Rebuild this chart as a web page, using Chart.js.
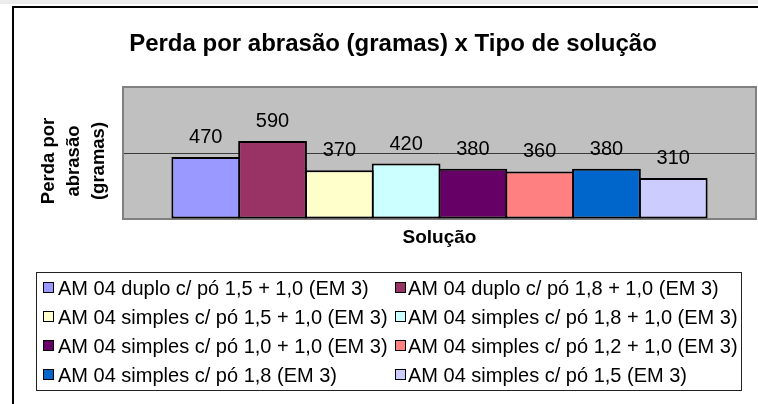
<!DOCTYPE html>
<html lang="pt-BR">
<head>
<meta charset="utf-8">
<title>Perda por abrasão</title>
<script src="https://cdn.jsdelivr.net/npm/chart.js@4.4.1/dist/chart.umd.min.js"></script>
<style>
  html, body { margin: 0; padding: 0; background: #fff; }
  body { width: 758px; height: 404px; position: relative; overflow: hidden; font-family: Arial, "Liberation Sans", sans-serif; }
  #faixa { position: absolute; left: 0; top: 0; width: 758px; height: 4px; background: #ececec; }
  #moldura { position: absolute; left: 12px; top: 6px; width: 780px; height: 440px; border-top: 2px solid #000; border-left: 2px solid #000; }
  #grafico { position: absolute; left: 0; top: 0; }
  #legenda { position: absolute; left: 36px; top: 272px; width: 706px; height: 119px; border: 1px solid #222; box-sizing: border-box; }
  .item { position: absolute; height: 22px; font-size: 20px; line-height: 22px; white-space: nowrap; color: #000; }
  .cor { position: absolute; left: 0; top: 5px; width: 9px; height: 9px; border: 1px solid #000; }
</style>
</head>
<body>
<div id="faixa"></div>
<div id="moldura"></div>
<canvas id="grafico" width="758" height="404"></canvas>
<div id="legenda"></div>

<script>
// dados
const series = [
  "AM 04 duplo c/ pó 1,5 + 1,0 (EM 3)",
  "AM 04 duplo c/ pó 1,8 + 1,0 (EM 3)",
  "AM 04 simples c/ pó 1,5 + 1,0 (EM 3)",
  "AM 04 simples c/ pó 1,8 + 1,0 (EM 3)",
  "AM 04 simples c/ pó 1,0 + 1,0 (EM 3)",
  "AM 04 simples c/ pó 1,2 + 1,0 (EM 3)",
  "AM 04 simples c/ pó 1,8 (EM 3)",
  "AM 04 simples c/ pó 1,5 (EM 3)"
];
const valores = [470, 590, 370, 420, 380, 360, 380, 310];
const categorias = [""];
const eixoY = { min: 0, max: 1000, passo: 500 };
const tituloEixoY = ["Perda por", "abrasão", "(gramas)"];

const cores = ["#9999ff", "#993366", "#ffffcc", "#ccffff", "#660066", "#ff8080", "#0066cc", "#ccccff"];
const fonte = "Arial, 'Liberation Sans', sans-serif";

// fundo cinza da área de plotagem + moldura
const fundoPlot = {
  id: "fundoPlot",
  beforeDraw(chart) {
    const { ctx, chartArea: a } = chart;
    ctx.save();
    ctx.fillStyle = "#c0c0c0";
    ctx.fillRect(a.left, a.top, a.width, a.height);
    ctx.restore();
  },
  beforeDatasetsDraw(chart) {
    const { ctx, chartArea: a } = chart;
    ctx.save();
    ctx.strokeStyle = "#808080";
    ctx.lineWidth = 2;
    ctx.strokeRect(a.left, a.top, a.width, a.height);
    ctx.restore();
  }
};

// valores acima das barras
const rotulos = {
  id: "rotulos",
  afterDatasetsDraw(chart) {
    const ctx = chart.ctx;
    ctx.save();
    ctx.font = "20px " + fonte;
    ctx.fillStyle = "#000";
    ctx.textAlign = "center";
    ctx.textBaseline = "alphabetic";
    chart.data.datasets.forEach((ds, i) => {
      chart.getDatasetMeta(i).data.forEach((bar, j) => {
        ctx.fillText(String(ds.data[j]), bar.x, bar.y - 14);
      });
    });
    ctx.restore();
  }
};

// título do eixo Y (um pouco abaixo do centro, como no Excel)
const tituloY = {
  id: "tituloY",
  afterDraw(chart) {
    const { ctx, chartArea: a } = chart;
    const meio = (a.top + a.bottom) / 2 + 8;
    ctx.save();
    ctx.font = "bold 18.5px " + fonte;
    ctx.fillStyle = "#000";
    ctx.textAlign = "center";
    ctx.textBaseline = "middle";
    tituloEixoY.forEach((linha, i) => {
      ctx.save();
      ctx.translate(a.left - 74.5 + i * 25, meio);
      ctx.rotate(-Math.PI / 2);
      ctx.fillText(linha, 0, 0);
      ctx.restore();
    });
    ctx.restore();
  }
};

const datasets = series.map((nome, i) => ({
  label: nome,
  data: [valores[i]],
  backgroundColor: cores[i],
  borderColor: "#000",
  borderWidth: 2,
  borderSkipped: false,
  barPercentage: 1.03,
  categoryPercentage: 0.844
}));

const grafico = new Chart(document.getElementById("grafico"), {
  type: "bar",
  data: { labels: categorias, datasets },
  options: {
    responsive: false,
    animation: false,
    devicePixelRatio: 1,
    events: [],
    layout: { padding: { left: 30, right: 2, top: 0, bottom: 154.6 } },
    plugins: {
      legend: { display: false },
      tooltip: { enabled: false },
      title: {
        display: true,
        text: "Perda por abrasão (gramas) x Tipo de solução",
        color: "#000",
        font: { family: fonte, size: 24, weight: "bold", lineHeight: 1.2 },
        padding: { top: 29.6, bottom: 28.6 }
      }
    },
    scales: {
      x: {
        ticks: { display: false },
        grid: { display: false, drawTicks: false },
        border: { display: false },
        title: {
          display: true,
          text: "Solução",
          color: "#000",
          font: { family: fonte, size: 19, weight: "bold", lineHeight: 1.2 },
          padding: { top: 7.6, bottom: 0 }
        }
      },
      y: {
        min: eixoY.min,
        max: eixoY.max,
        ticks: { display: false, stepSize: eixoY.passo },
        grid: {
          drawTicks: false,
          color: c => (c.tick && c.tick.value === eixoY.passo ? "#3a3a3a" : "rgba(0,0,0,0)")
        },
        border: { display: false },
        afterFit(scale) { scale.width = 93; }
      }
    }
  },
  plugins: [fundoPlot, rotulos, tituloY]
});

// legenda em duas colunas, montada a partir dos datasets
function montarLegenda() {
  const caixa = document.getElementById("legenda");
  const colunas = [6, 358];
  const linhas = [4, 33, 62, 91];
  grafico.data.datasets.forEach((ds, i) => {
    const item = document.createElement("div");
    item.className = "item";
    item.style.left = colunas[i % 2] + "px";
    item.style.top = linhas[Math.floor(i / 2)] + "px";
    const cor = document.createElement("span");
    cor.className = "cor";
    cor.style.background = ds.backgroundColor;
    const texto = document.createElement("span");
    texto.textContent = ds.label;
    texto.style.marginLeft = (i % 2 === 0 ? 15 : 13) + "px";
    item.appendChild(cor);
    item.appendChild(texto);
    caixa.appendChild(item);
  });
}
montarLegenda();
</script>
</body>
</html>
